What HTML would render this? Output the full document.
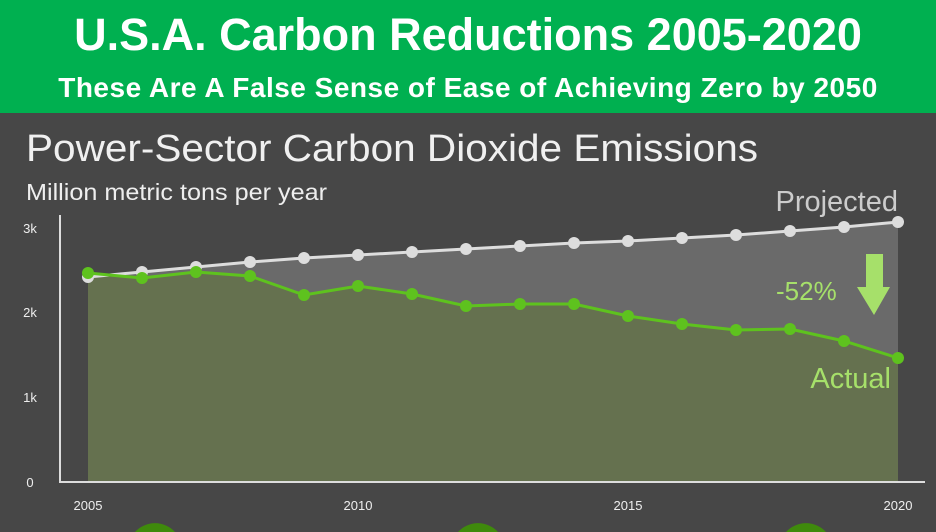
<!DOCTYPE html>
<html><head><meta charset="utf-8"><style>
html,body{margin:0;width:936px;height:532px;overflow:hidden;background:#474747;font-family:"Liberation Sans",sans-serif}
.hdr{position:absolute;left:0;top:0;width:936px;height:113px;background:#00b050;color:#fff;text-align:center;font-weight:bold}
</style></head><body>
<div class="hdr">
<div style="position:absolute;top:10px;width:100%;font-size:45px;line-height:50px">U.S.A. Carbon Reductions 2005-2020</div>
<div style="position:absolute;top:72px;width:100%;font-size:28px;line-height:32px;letter-spacing:0.5px">These Are A False Sense of Ease of Achieving Zero by 2050</div>
</div>
<svg width="936" height="532" style="position:absolute;left:0;top:0;display:block">
<g font-family="Liberation Sans, sans-serif">
<text x="26" y="161" font-size="38" fill="#f0f0f0" textLength="732" lengthAdjust="spacingAndGlyphs">Power-Sector Carbon Dioxide Emissions</text>
<text x="26" y="200" font-size="23" fill="#eee" textLength="301" lengthAdjust="spacingAndGlyphs">Million metric tons per year</text>
<polygon fill="#6a6a6a" points="88,277 142,272 196,267 250,262 304,258 358,255 412,252 466,249 520,246 574,243 628,241 682,238 736,235 790,231 844,227 898,222 898,482 88,482"/>
<polygon fill="#65714f" points="88,273 142,278 196,272 250,276 304,295 358,286 412,294 466,306 520,304 574,304 628,316 682,324 736,330 790,329 844,341 898,358 898,482 88,482"/>
<polyline fill="none" stroke="#ddd" stroke-width="3" points="88,277 142,272 196,267 250,262 304,258 358,255 412,252 466,249 520,246 574,243 628,241 682,238 736,235 790,231 844,227 898,222"/>
<g fill="#ddd">
<circle cx="88" cy="277" r="6"/><circle cx="142" cy="272" r="6"/><circle cx="196" cy="267" r="6"/><circle cx="250" cy="262" r="6"/><circle cx="304" cy="258" r="6"/><circle cx="358" cy="255" r="6"/><circle cx="412" cy="252" r="6"/><circle cx="466" cy="249" r="6"/><circle cx="520" cy="246" r="6"/><circle cx="574" cy="243" r="6"/><circle cx="628" cy="241" r="6"/><circle cx="682" cy="238" r="6"/><circle cx="736" cy="235" r="6"/><circle cx="790" cy="231" r="6"/><circle cx="844" cy="227" r="6"/><circle cx="898" cy="222" r="6"/>
</g>
<polyline fill="none" stroke="#5ec21e" stroke-width="3" points="88,273 142,278 196,272 250,276 304,295 358,286 412,294 466,306 520,304 574,304 628,316 682,324 736,330 790,329 844,341 898,358"/>
<g fill="#5ec21e">
<circle cx="88" cy="273" r="6"/><circle cx="142" cy="278" r="6"/><circle cx="196" cy="272" r="6"/><circle cx="250" cy="276" r="6"/><circle cx="304" cy="295" r="6"/><circle cx="358" cy="286" r="6"/><circle cx="412" cy="294" r="6"/><circle cx="466" cy="306" r="6"/><circle cx="520" cy="304" r="6"/><circle cx="574" cy="304" r="6"/><circle cx="628" cy="316" r="6"/><circle cx="682" cy="324" r="6"/><circle cx="736" cy="330" r="6"/><circle cx="790" cy="329" r="6"/><circle cx="844" cy="341" r="6"/><circle cx="898" cy="358" r="6"/>
</g>
<line x1="60" y1="215" x2="60" y2="483" stroke="#ddd" stroke-width="2"/>
<line x1="59" y1="482" x2="925" y2="482" stroke="#ddd" stroke-width="2"/>
<g font-size="13" fill="#eee" text-anchor="middle">
<text x="30" y="233">3k</text><text x="30" y="317">2k</text><text x="30" y="402">1k</text><text x="30" y="487">0</text>
<text x="88" y="510">2005</text><text x="358" y="510">2010</text><text x="628" y="510">2015</text><text x="898" y="510">2020</text>
</g>
<text x="898" y="211" font-size="29" fill="#ccc" text-anchor="end">Projected</text>
<text x="891" y="388" font-size="29" fill="#a6e06a" text-anchor="end">Actual</text>
<text x="776" y="300" font-size="26" fill="#a6e06a">-52%</text>
<polygon fill="#a6e06a" points="866,254 883,254 883,287 890,287 874,315 857,287 866,287"/>
<g fill="#3f8a0c">
<path d="M135,532 A27,27 0 0 1 175,532 Z"/>
<path d="M458,532 A27,27 0 0 1 498,532 Z"/>
<path d="M786,532 A27,27 0 0 1 826,532 Z"/>
</g>
</g>
</svg>
</body></html>
